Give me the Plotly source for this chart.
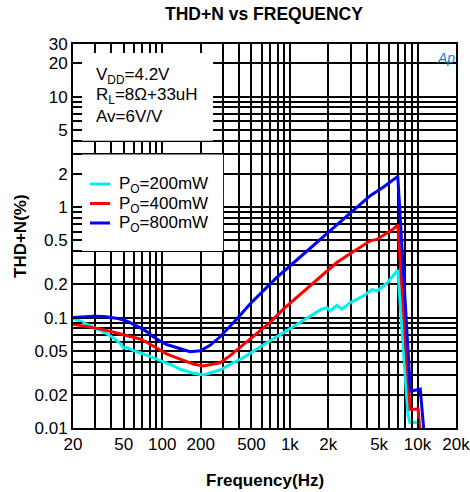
import math
import plotly.graph_objects as go

# ---------------- data ----------------
series_names = ["P<sub>O</sub>=200mW", "P<sub>O</sub>=400mW", "P<sub>O</sub>=800mW"]
series_colors = ["#00F0F0", "#FF0000", "#0000FF"]

freq_200 = [20, 23, 25.5, 29, 32.5, 37, 41, 47, 50, 53, 60, 67, 75, 85, 95, 108, 120, 138, 160,
            175, 209, 250, 284, 340, 432, 547, 697, 888, 1132, 1441, 1770, 1947, 2063, 2330,
            2560, 2980, 3780, 4400, 4840, 5800, 6900, 7000, 8400, 8700, 10000, 10200, 10600]
thd_200 = [0.098, 0.093, 0.087, 0.082, 0.077, 0.071, 0.066, 0.058, 0.053, 0.0535, 0.050, 0.048,
           0.046, 0.0434, 0.041, 0.039, 0.037, 0.034, 0.032, 0.0313, 0.0302, 0.0318, 0.0335,
           0.0378, 0.0434, 0.0517, 0.0614, 0.074, 0.087, 0.103, 0.119, 0.123, 0.115, 0.129,
           0.119, 0.137, 0.157, 0.18, 0.174, 0.207, 0.264, 0.27, 0.0133, 0.0112, 0.0112,
           0.0118, 0.0095]

freq_400 = [20, 25.5, 32.5, 41, 53, 67, 75, 85, 95, 108, 138, 175, 209, 250, 284, 338, 432,
            547, 697, 888, 1132, 1441, 1835, 2330, 2980, 3554, 4256, 4796, 5418, 6400, 7000,
            8740, 9900, 10100, 10400]
thd_400 = [0.087, 0.083, 0.079, 0.074, 0.069, 0.064, 0.060, 0.055, 0.051, 0.047, 0.042, 0.038,
           0.0365, 0.0378, 0.039, 0.045, 0.057, 0.0706, 0.090, 0.119, 0.152, 0.193, 0.247,
           0.315, 0.38, 0.433, 0.495, 0.51, 0.56, 0.63, 0.69, 0.0148, 0.0148, 0.0152, 0.0095]

freq_800 = [20, 24, 29, 35, 40, 45, 53, 60, 67, 75, 85, 95, 108, 120, 138, 165, 198, 237, 284,
            330, 381, 485, 618, 786, 1000, 1274, 1620, 2063, 2627, 3343, 4256, 5418, 6200,
            7000, 8800, 9500, 10200, 10500, 11200]
thd_800 = [0.100, 0.102, 0.103, 0.102, 0.100, 0.098, 0.093, 0.087, 0.081, 0.075, 0.067, 0.062,
           0.057, 0.055, 0.052, 0.049, 0.050, 0.056, 0.067, 0.080, 0.096, 0.132, 0.174, 0.23,
           0.293, 0.374, 0.48, 0.61, 0.78, 1.0, 1.27, 1.52, 1.72, 1.90, 0.0215, 0.022, 0.0222,
           0.0225, 0.0095]

x_tickvals = [20, 50, 100, 200, 500, 1000, 2000, 5000, 10000, 20000]
x_ticktext = ["20", "50", "100", "200", "500", "1k", "2k", "5k", "10k", "20k"]
x_minorvals = [30, 40, 60, 70, 80, 90, 300, 400, 600, 700, 800, 900,
               3000, 4000, 6000, 7000, 8000, 9000]

y_tickvals = [0.01, 0.02, 0.05, 0.1, 0.2, 0.5, 1, 2, 5, 10, 20, 30]
y_ticktext = ["0.01", "0.02", "0.05", "0.1", "0.2", "0.5", "1", "2", "5", "10", "20", "30"]
y_minorvals = [0.03, 0.04, 0.06, 0.07, 0.08, 0.09, 0.3, 0.4, 0.6, 0.7, 0.8, 0.9,
               3, 4, 6, 7, 8, 9]

cond_lines = ["V<sub>DD</sub>=4.2V", "R<sub>L</sub>=8Ω+33uH", "Av=6V/V"]

title_text = "THD+N vs FREQUENCY"
x_title = "Frequency(Hz)"
y_title = "THD+N(%)"

# ---------------- figure ----------------
FONT = "Liberation Sans, Arial, sans-serif"
W, H = 470, 492
ML, MR, MT, MB = 73, 14, 44, 64
PW, PH = W - ML - MR, H - MT - MB


def px2paper_x(px):
    return (px - ML) / PW


def px2paper_y(py):
    return (H - MB - py) / PH


fig = go.Figure()
for f, v, name, col in [(freq_200, thd_200, series_names[0], series_colors[0]),
                        (freq_400, thd_400, series_names[1], series_colors[1]),
                        (freq_800, thd_800, series_names[2], series_colors[2])]:
    fig.add_trace(go.Scatter(x=f, y=v, mode="lines", name=name,
                             line=dict(color=col, width=3), showlegend=False))

axis_common = dict(
    type="log", showgrid=True, gridcolor="black", gridwidth=1.6,
    ticks="inside", ticklen=9, tickwidth=1.6, tickcolor="black",
    showline=True, linecolor="black", linewidth=2, mirror="allticks",
    zeroline=False, tickfont=dict(size=17, color="black", family=FONT),
    tickmode="array", ticklabeloverflow="allow", automargin=False,
)

fig.update_xaxes(
    **axis_common,
    range=[math.log10(20), math.log10(20000)],
    tickvals=x_tickvals, ticktext=x_ticktext,
    minor=dict(tickmode="array", tickvals=x_minorvals, showgrid=True, gridcolor="black",
               gridwidth=1.6, ticks="inside", ticklen=9, tickwidth=1.6, tickcolor="black"),
)
fig.update_yaxes(
    **axis_common,
    range=[math.log10(0.01), math.log10(30)],
    tickvals=y_tickvals, ticktext=y_ticktext,
    minor=dict(tickmode="array", tickvals=y_minorvals, showgrid=True, gridcolor="black",
               gridwidth=1.6, ticks="inside", ticklen=9, tickwidth=1.6, tickcolor="black"),
)

shapes = [
    # white box behind the condition text (data coordinates on log axes)
    dict(type="rect", xref="x", yref="y", x0=20, x1=250, y0=4, y1=30,
         fillcolor="white", line=dict(width=0), layer="between"),
    # white box behind the legend
    dict(type="rect", xref="x", yref="y", x0=20, x1=300, y0=0.4, y1=3,
         fillcolor="white", line=dict(width=0), layer="between"),
]

annotations = []
cond_y = [75.5, 96, 116]
for txt, py in zip(cond_lines, cond_y):
    annotations.append(dict(text=txt, xref="paper", yref="paper", x=px2paper_x(94),
                            y=px2paper_y(py), xanchor="left", yanchor="middle",
                            showarrow=False, font=dict(size=17, color="black", family=FONT)))

leg_y = [184, 203.5, 223]
for name, col, py in zip(series_names, series_colors, leg_y):
    shapes.append(dict(type="line", xref="paper", yref="paper",
                       x0=px2paper_x(90), x1=px2paper_x(110),
                       y0=px2paper_y(py), y1=px2paper_y(py),
                       line=dict(color=col, width=3), layer="above"))
    annotations.append(dict(text=name, xref="paper", yref="paper", x=px2paper_x(117),
                            y=px2paper_y(py + 1), xanchor="left", yanchor="middle",
                            showarrow=False, font=dict(size=17, color="black", family=FONT)))

annotations.append(dict(text="<b>" + x_title + "</b>", xref="paper", yref="paper",
                        x=0.5, y=px2paper_y(480), xanchor="center", yanchor="middle",
                        showarrow=False, font=dict(size=17, color="black", family=FONT)))
annotations.append(dict(text="<b>" + y_title + "</b>", xref="paper", yref="paper",
                        x=px2paper_x(20), y=0.5, xanchor="center", yanchor="middle",
                        textangle=-90, showarrow=False,
                        font=dict(size=17, color="black", family=FONT)))
annotations.append(dict(text="<i>Ap</i>", xref="paper", yref="paper",
                        x=px2paper_x(446), y=px2paper_y(58), xanchor="center",
                        yanchor="middle", showarrow=False,
                        font=dict(size=14, color="#1E7FC8", family=FONT)))

fig.update_layout(
    width=W, height=H,
    margin=dict(l=ML, r=MR, t=MT, b=MB, pad=0, autoexpand=False),
    paper_bgcolor="white", plot_bgcolor="white",
    font=dict(family=FONT, color="black"),
    title=dict(text="<b>" + title_text + "</b>", x=px2paper_x(264), xref="paper",
               xanchor="center", y=1 - 14 / H, yanchor="middle",
               font=dict(size=17.5, color="black", family=FONT)),
    shapes=shapes, annotations=annotations, showlegend=False,
)

fig.write_html("out.html")
